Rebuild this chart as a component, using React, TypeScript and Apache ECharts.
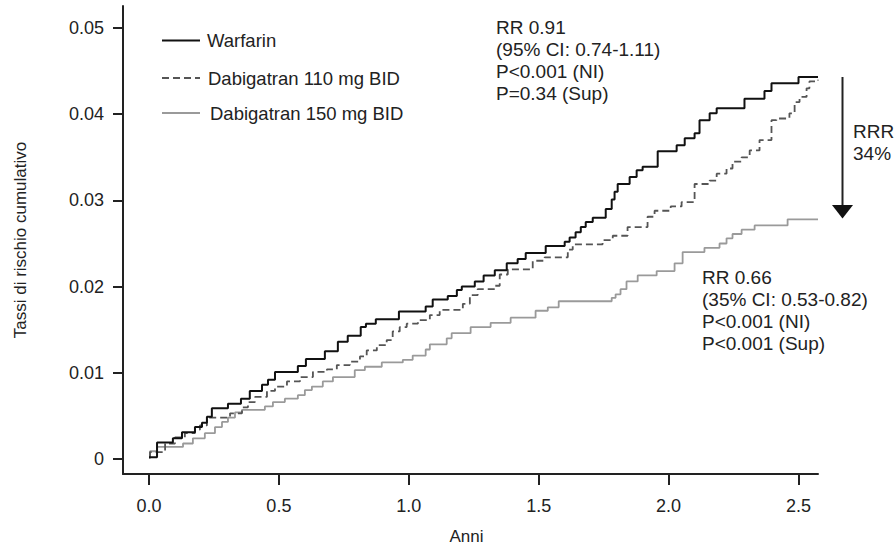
import React, { useEffect, useRef } from "react";
import * as echarts from "echarts";

const FONT = "'Liberation Sans', Arial, Helvetica, sans-serif";

const seriesNames = ["Warfarin", "Dabigatran 110 mg BID", "Dabigatran 150 mg BID"];

const xTicks = [0, 0.5, 1.0, 1.5, 2.0, 2.5];
const yTicks = [0, 0.01, 0.02, 0.03, 0.04, 0.05];

const warfarinTimes = [
  0, 0.031, 0.092, 0.127, 0.177, 0.204, 0.223, 0.242, 0.304, 0.354, 0.388, 0.435, 0.458, 0.485,
  0.573, 0.604, 0.677, 0.727, 0.765, 0.815, 0.835, 0.873, 0.962, 1.065, 1.092, 1.15, 1.185, 1.204,
  1.254, 1.288, 1.331, 1.377, 1.419, 1.45, 1.527, 1.6, 1.619, 1.642, 1.662, 1.681, 1.708, 1.758,
  1.781, 1.792, 1.804, 1.85, 1.877, 1.9, 1.958, 2.031, 2.062, 2.1, 2.119, 2.158, 2.185, 2.292,
  2.369, 2.396, 2.5, 2.575,
];
const warfarinRates = [
  0.0002, 0.0019, 0.0024, 0.0031, 0.0037, 0.0042, 0.0049, 0.0059, 0.0064, 0.007, 0.0079, 0.0086,
  0.0092, 0.0101, 0.0108, 0.0116, 0.0125, 0.0136, 0.0143, 0.0153, 0.0157, 0.0162, 0.0171, 0.0177,
  0.0185, 0.0189, 0.0196, 0.02, 0.0206, 0.0213, 0.0219, 0.0227, 0.0232, 0.0239, 0.0247, 0.0252,
  0.0257, 0.0263, 0.0269, 0.0275, 0.028, 0.029, 0.0301, 0.031, 0.0319, 0.0327, 0.0335, 0.0339,
  0.0357, 0.0364, 0.0372, 0.0378, 0.0393, 0.0401, 0.0407, 0.0418, 0.0427, 0.0436, 0.0443, 0.0443,
];

const dabi110Times = [
  0, 0.004, 0.062, 0.1, 0.138, 0.177, 0.196, 0.223, 0.312, 0.358, 0.381, 0.408, 0.454, 0.485,
  0.531, 0.581, 0.631, 0.685, 0.723, 0.773, 0.812, 0.838, 0.877, 0.915, 0.938, 0.965, 0.992,
  1.035, 1.081, 1.119, 1.208, 1.235, 1.265, 1.331, 1.35, 1.381, 1.477, 1.523, 1.612, 1.631, 1.746,
  1.785, 1.842, 1.919, 1.946, 2.008, 2.05, 2.1, 2.158, 2.185, 2.223, 2.246, 2.281, 2.312, 2.35,
  2.396, 2.415, 2.465, 2.485, 2.504, 2.531, 2.542, 2.575,
];
const dabi110Rates = [
  0.0003, 0.0008, 0.0018, 0.0025, 0.003, 0.0034, 0.0039, 0.0048, 0.0053, 0.006, 0.0066, 0.0072,
  0.0079, 0.0084, 0.009, 0.0095, 0.0101, 0.0104, 0.0109, 0.0113, 0.0119, 0.0126, 0.0132, 0.0138,
  0.0148, 0.0153, 0.0157, 0.0161, 0.0167, 0.0173, 0.018, 0.019, 0.0197, 0.0201, 0.0214, 0.022,
  0.023, 0.0234, 0.0243, 0.0249, 0.0254, 0.0259, 0.0269, 0.0281, 0.0288, 0.0293, 0.0298, 0.0319,
  0.0323, 0.0331, 0.0337, 0.0345, 0.035, 0.0358, 0.037, 0.0393, 0.0395, 0.0401, 0.0414, 0.042,
  0.043, 0.0438, 0.044,
];

const dabi150Times = [
  0, 0.004, 0.031, 0.131, 0.169, 0.215, 0.254, 0.281, 0.304, 0.331, 0.358, 0.446, 0.477, 0.523,
  0.573, 0.6, 0.627, 0.669, 0.708, 0.792, 0.831, 0.896, 0.977, 1.015, 1.065, 1.081, 1.146, 1.165,
  1.238, 1.315, 1.392, 1.488, 1.535, 1.577, 1.781, 1.796, 1.815, 1.838, 1.881, 1.954, 2.023, 2.054,
  2.138, 2.196, 2.223, 2.246, 2.281, 2.331, 2.458, 2.575,
];
const dabi150Rates = [
  0.0001, 0.0009, 0.0014, 0.0018, 0.0024, 0.003, 0.0037, 0.0043, 0.0048, 0.0054, 0.0057, 0.0061,
  0.0066, 0.007, 0.0074, 0.008, 0.0084, 0.009, 0.0095, 0.0103, 0.0107, 0.0112, 0.0115, 0.012,
  0.0127, 0.0133, 0.014, 0.0146, 0.0153, 0.0158, 0.0164, 0.0172, 0.0176, 0.0183, 0.0187, 0.0191,
  0.0197, 0.0206, 0.0213, 0.0218, 0.0227, 0.024, 0.0245, 0.025, 0.0256, 0.0261, 0.0266, 0.0271,
  0.0278, 0.0278,
];

const annotationTop = ["RR 0.91", "(95% CI: 0.74-1.11)", "P<0.001 (NI)", "P=0.34 (Sup)"];
const annotationBottom = ["RR 0.66", "(35% CI: 0.53-0.82)", "P<0.001 (NI)", "P<0.001 (Sup)"];
const annotationRRR = ["RRR", "34%"];

const zip = (xs: number[], ys: number[]) => xs.map((x, i) => [x, ys[i]]);

const AXIS_COLOR = "#222";
const COLORS = ["#111111", "#555555", "#9a9a9a"];
const WIDTHS = [2, 1.8, 1.8];
const DASHES: (number[] | null)[] = [null, [7, 4], null];

export default function App() {
  const ref = useRef<HTMLDivElement>(null);

  useEffect(() => {
    if (!ref.current) return;
    const chart = echarts.init(ref.current, undefined, { renderer: "svg" });
    const textBlock = (lines: string[], x: number, y: number) => ({
      type: "text",
      x,
      y,
      style: {
        text: lines.join("\n"),
        fontSize: 19,
        fontFamily: FONT,
        lineHeight: 22,
        fill: AXIS_COLOR,
        align: "left",
        verticalAlign: "top",
      },
    });
    const legendRows = [40.5, 78, 113];
    const legendTextX = [207, 208, 210];
    const legendGraphics: any[] = [];
    seriesNames.forEach((name, i) => {
      const y = legendRows[i];
      legendGraphics.push({
        type: "line",
        shape: { x1: 162, y1: y, x2: 200, y2: y },
        style: {
          stroke: COLORS[i],
          lineWidth: WIDTHS[i],
          lineDash: DASHES[i] || undefined,
        },
      });
      legendGraphics.push({
        type: "text",
        x: legendTextX[i],
        y,
        style: {
          text: name,
          fontSize: 18.5,
          fontFamily: FONT,
          fill: AXIS_COLOR,
          align: "left",
          verticalAlign: "middle",
        },
      });
    });

    const mkSeries = (i: number, times: number[], rates: number[], z: number) => ({
      name: seriesNames[i],
      type: "line",
      step: "end",
      symbol: "none",
      z,
      data: zip(times, rates),
      lineStyle: { color: COLORS[i], width: WIDTHS[i], type: DASHES[i] || "solid" },
      itemStyle: { color: COLORS[i] },
    });

    chart.setOption({
      animation: false,
      backgroundColor: "#ffffff",
      textStyle: { fontFamily: FONT },
      grid: { left: 123, right: 76, top: 6, bottom: 73, containLabel: false, outerBoundsMode: "none" },
      xAxis: {
        type: "value",
        min: -0.1,
        max: 2.575,
        name: "Anni",
        nameLocation: "middle",
        nameGap: 54,
        nameTextStyle: {
          fontSize: 17,
          lineHeight: 17,
          color: AXIS_COLOR,
          fontFamily: FONT,
          padding: [0, 8, 0, 0],
        },
        axisLine: { onZero: false, lineStyle: { color: AXIS_COLOR, width: 2 } },
        axisTick: { show: true, length: 11, customValues: xTicks, lineStyle: { color: AXIS_COLOR, width: 2 } },
        axisLabel: {
          customValues: xTicks,
          formatter: (v: number) => v.toFixed(1),
          fontSize: 18,
          color: AXIS_COLOR,
          margin: 23,
          fontFamily: FONT,
        },
        splitLine: { show: false },
      },
      yAxis: {
        type: "value",
        min: -0.00174,
        max: 0.05255,
        name: "Tassi di rischio cumulativo",
        nameLocation: "middle",
        nameGap: 94,
        nameRotate: 90,
        nameTextStyle: { fontSize: 17, color: AXIS_COLOR, fontFamily: FONT },
        axisLine: { show: true, onZero: false, lineStyle: { color: AXIS_COLOR, width: 2 } },
        axisTick: { show: true, length: 10, customValues: yTicks, lineStyle: { color: AXIS_COLOR, width: 2 } },
        axisLabel: {
          customValues: yTicks,
          formatter: (v: number) => (Math.abs(v) < 1e-9 ? "0" : v.toFixed(2)),
          fontSize: 18,
          color: AXIS_COLOR,
          margin: 19,
          fontFamily: FONT,
        },
        splitLine: { show: false },
      },
      series: [
        mkSeries(2, dabi150Times, dabi150Rates, 2),
        mkSeries(1, dabi110Times, dabi110Rates, 3),
        mkSeries(0, warfarinTimes, warfarinRates, 4),
      ],
      graphic: [
        ...legendGraphics,
        textBlock(annotationTop, 496, 16.5),
        textBlock(annotationBottom, 702, 266.5),
        textBlock(annotationRRR, 853, 120),
        {
          type: "line",
          shape: { x1: 842.5, y1: 77, x2: 842.5, y2: 207 },
          style: { stroke: AXIS_COLOR, lineWidth: 2 },
        },
        {
          type: "polygon",
          shape: { points: [[832, 205], [853, 205], [842.5, 218.5]] },
          style: { fill: "#111111" },
        },
      ],
    });
    return () => chart.dispose();
  }, []);

  return (
    <div
      ref={ref}
      style={{ position: "absolute", left: 0, top: 0, width: 894, height: 547, background: "#fff" }}
    />
  );
}
